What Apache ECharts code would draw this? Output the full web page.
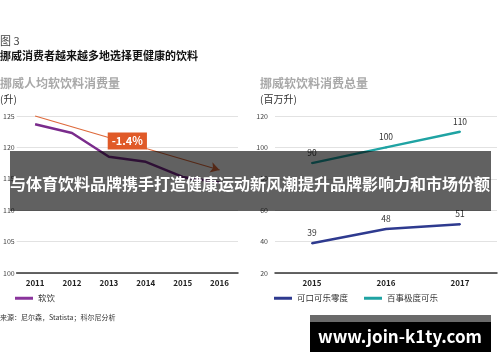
<!DOCTYPE html>
<html><head><meta charset="utf-8">
<script src="https://cdn.jsdelivr.net/npm/echarts@6/dist/echarts.min.js"></script>
<style>html,body{margin:0;padding:0;background:#fff}#c{width:500px;height:362px}</style>
</head><body><div id="c"></div>
<script>
var yearsLeft = ['2011','2012','2013','2014','2015','2016'];
var softDrinks = [123.7, 122.3, 118.5, 117.7, 115.3, 114.4];
var trendStart = 125, trendEnd = 116.4, trendLabel = '-1.4%';
var yearsRight = ['2015','2016','2017'];
var cokeZero = [39, 48, 51];
var pepsiMax = [90, 100, 110];
var titleFig = '图 3';
var titleMain = '挪威消费者越来越多地选择更健康的饮料';
var leftTitle = '挪威人均软饮料消费量', leftUnit = '(升)';
var rightTitle = '挪威软饮料消费总量', rightUnit = '(百万升)';
var sourceText = '来源：尼尔森，Statista；科尔尼分析';
var bannerText = '与体育饮料品牌携手打造健康运动新风潮提升品牌影响力和市场份额';
var watermark = 'www.join-k1ty.com';

var FF = '"Noto Sans CJK SC", "Noto Sans", sans-serif';
var chart = echarts.init(document.getElementById('c'));
var axisX = function(idx, data){return {gridIndex:idx,type:'category',data:data,boundaryGap:true,
  axisLine:{lineStyle:{color:'#333',width:1.5}},axisTick:{show:false},
  axisLabel:{fontFamily:FF,fontSize:8,fontWeight:'bold',color:'#222',margin:6}};};
var axisY = function(idx,min,max,iv,margin){return {gridIndex:idx,type:'value',min:min,max:max,interval:iv,
  axisLine:{show:false},axisTick:{show:false},
  axisLabel:{fontFamily:FF,fontSize:7,color:'#444',margin:margin},
  splitLine:{lineStyle:{color:'#e2e2e2',width:1}}};};
var lbl = {show:true,position:'top',distance:5,fontFamily:FF,fontSize:8.5,color:'#333'};
var legText = {fontFamily:FF,fontSize:8.5,color:'#333'};

chart.setOption({
  animation:false,
  grid:[{left:16,right:262,top:116,bottom:89},{left:275,right:3,top:116,bottom:89}],
  xAxis:[axisX(0,yearsLeft),axisX(1,yearsRight)],
  yAxis:[axisY(0,100,125,5,2),axisY(1,20,120,20,7)],
  legend:[
    {left:15,top:294,padding:0,data:['软饮'],icon:'rect',itemWidth:18,itemHeight:3,textStyle:legText},
    {left:274,top:294,padding:0,data:['可口可乐零度','百事极度可乐'],icon:'rect',itemWidth:18,itemHeight:3,itemGap:16,textStyle:legText}
  ],
  series:[
    {name:'软饮',type:'line',xAxisIndex:0,yAxisIndex:0,data:softDrinks,symbol:'none',color:'#8a349c',
      lineStyle:{width:2.5,color:'#7a2c8c'},
      markLine:{silent:true,symbol:['none','arrow'],symbolSize:[8,9],label:{show:false},
        lineStyle:{type:'solid',width:1.2,color:'#de6a3c'},
        data:[[{coord:[0,trendStart]},{coord:[5,trendEnd]}]]}},
    {name:'可口可乐零度',type:'line',xAxisIndex:1,yAxisIndex:1,data:cokeZero,symbol:'circle',symbolSize:2,showSymbol:true,
      itemStyle:{color:'#2e3a8f'},color:'#2e3a8f',
      lineStyle:{width:2.5,color:'#2e3a8f'},label:lbl},
    {name:'百事极度可乐',type:'line',xAxisIndex:1,yAxisIndex:1,data:pepsiMax,symbol:'circle',symbolSize:2,showSymbol:true,
      itemStyle:{color:'#1fa3a3'},color:'#1fa3a3',
      lineStyle:{width:2.5,color:'#1fa3a3'},label:lbl}
  ]
});

var mid = (trendStart+trendEnd)/2;
var pa = chart.convertToPixel({gridIndex:0},[2,mid]);
var pb = chart.convertToPixel({gridIndex:0},[3,mid]);
var px = (pa[0]+pb[0])/2, py = pa[1];
chart.setOption({graphic:[
  {type:'text',left:0,top:35,style:{text:titleFig,fontFamily:FF,fontSize:11,fill:'#444'}},
  {type:'text',left:0,top:50,style:{text:titleMain,fontFamily:FF,fontSize:11,fontWeight:'bold',fill:'#111'}},
  {type:'text',left:0,top:77,style:{text:leftTitle,fontFamily:FF,fontSize:12,fontWeight:'bold',fill:'#a8a8a8'}},
  {type:'text',left:0,top:94,style:{text:leftUnit,fontFamily:FF,fontSize:10,fill:'#333'}},
  {type:'text',left:260,top:77,style:{text:rightTitle,fontFamily:FF,fontSize:12,fontWeight:'bold',fill:'#a8a8a8'}},
  {type:'text',left:260,top:94,style:{text:rightUnit,fontFamily:FF,fontSize:10,fill:'#333'}},
  {type:'text',x:px,y:py-2,style:{text:trendLabel,fontFamily:FF,fontSize:11,fontWeight:'bold',fill:'#fff',
    backgroundColor:'#e05a28',padding:[3,4,3,4],align:'center',verticalAlign:'middle'},z:50},
  {type:'text',left:0,top:314,style:{text:sourceText,fontFamily:FF,fontSize:7,fill:'#333'}},
  {type:'rect',shape:{x:10,y:151,width:481,height:60},style:{fill:'rgba(0,0,0,0.62)'},z:100},
  {type:'text',x:250,y:184,style:{text:bannerText,fontFamily:FF,fontSize:16,fontWeight:'bold',fill:'#fff',align:'center',verticalAlign:'middle'},z:101},
  {type:'rect',shape:{x:310,y:315,width:181,height:8},style:{fill:'#6a6a6a'},z:100},
  {type:'rect',shape:{x:310,y:322,width:181,height:30},style:{fill:'#000'},z:100},
  {type:'text',x:400,y:337,style:{text:watermark,fontFamily:FF,fontSize:17,fontWeight:'bold',fill:'#fff',align:'center',verticalAlign:'middle'},z:101}
]});
</script></body></html>
